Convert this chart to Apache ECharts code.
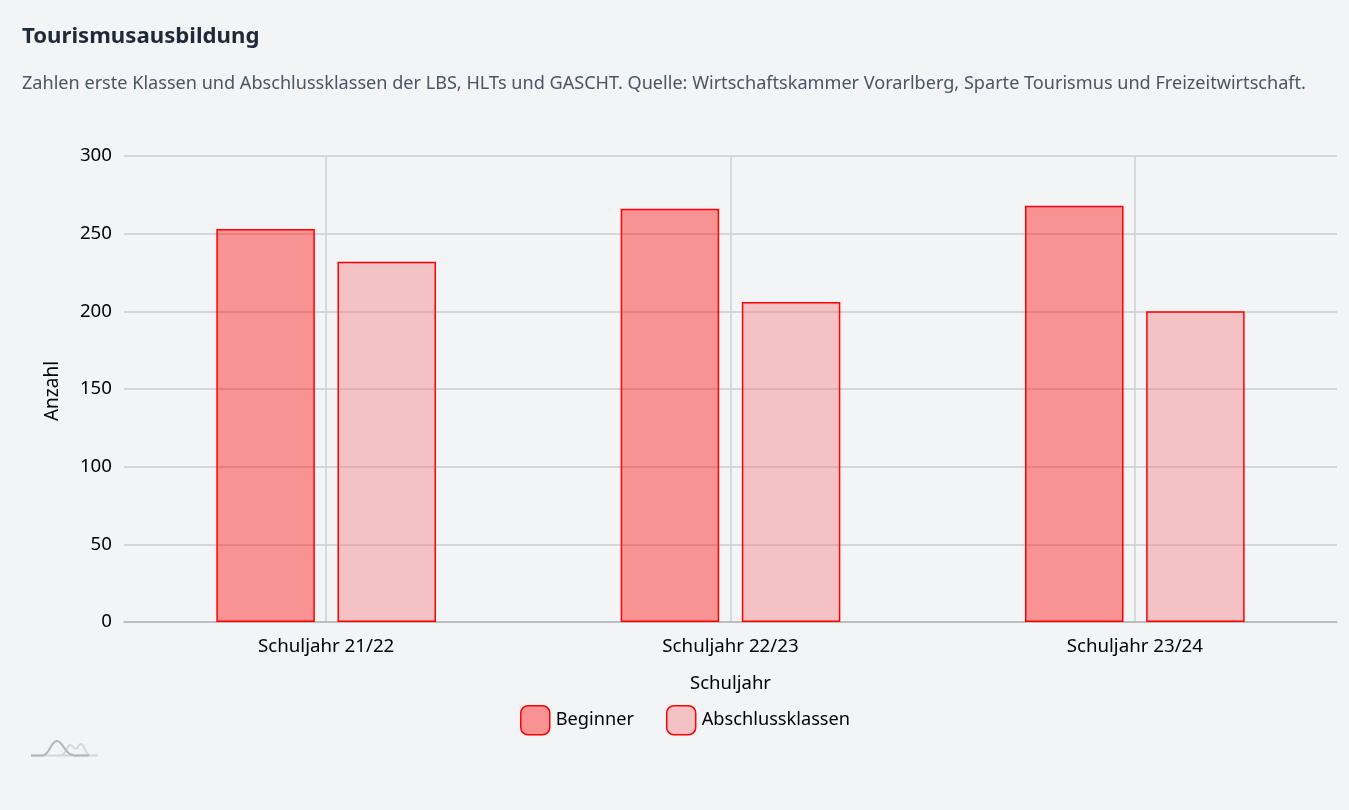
<!DOCTYPE html>
<html>
<head>
<meta charset="utf-8">
<style>
html,body{margin:0;padding:0;background:#f3f4f6;}
#chart{width:1349px;height:810px;}
</style>
<script src="https://cdn.jsdelivr.net/npm/echarts@6/dist/echarts.min.js"></script>
</head>
<body>
<div id="chart"></div>
<script>
var categories = ['Schuljahr 21/22', 'Schuljahr 22/23', 'Schuljahr 23/24'];
var beginner = [253, 266, 268];
var abschluss = [232, 206, 200];
var font = 'Noto Sans';

// kleines Logo links unten
function logoCurve(x1, y1, cx1, cy1, cx2, cy2, x2, y2, color) {
    return {type: 'bezierCurve', shape: {x1: x1, y1: y1, cpx1: cx1, cpy1: cy1, cpx2: cx2, cpy2: cy2, x2: x2, y2: y2},
        style: {fill: 'none', stroke: color, lineWidth: 2}};
}
var logoDark = '#b4b5b7', logoLight = '#d6d7d9';

var myChart = echarts.init(document.getElementById('chart'));
var option = {
    backgroundColor: '#f3f4f6',
    animation: false,
    textStyle: {fontFamily: font},
    title: [
        {text: 'Tourismusausbildung', left: 22, top: 26, padding: 0,
            textStyle: {fontFamily: font, fontSize: 22.2, fontWeight: 'bold', color: '#1f2937'}},
        {text: 'Zahlen erste Klassen und Abschlussklassen der LBS, HLTs und GASCHT. Quelle: Wirtschaftskammer Vorarlberg, Sparte Tourismus und Freizeitwirtschaft.', left: 22, top: 75, padding: 0,
            textStyle: {fontFamily: font, fontSize: 18.1, fontWeight: 'normal', color: '#4b5563'}}
    ],
    grid: {left: 124, right: 12, top: 156, bottom: 188},
    legend: {
        left: 520, top: 705, padding: 0,
        itemWidth: 29, itemHeight: 29, itemGap: 32,
        icon: 'roundRect',
        itemStyle: {borderWidth: 1.5},
        textStyle: {fontFamily: font, fontSize: 18.2, color: '#000', padding: [0, 0, 0, 1]},
        data: ['Beginner', 'Abschlussklassen']
    },
    xAxis: {
        type: 'category',
        data: categories,
        name: 'Schuljahr',
        nameLocation: 'middle',
        nameGap: 52,
        nameTextStyle: {fontSize: 18.5, color: '#000'},
        axisLine: {lineStyle: {color: '#b5b5b5', width: 1.5}},
        axisTick: {show: false},
        axisLabel: {fontSize: 18.7, color: '#000', margin: 15},
        splitLine: {show: true, alignWithLabel: true, lineStyle: {color: '#d0d1d3', width: 1.5}}
    },
    yAxis: {
        type: 'value',
        min: 0,
        max: 300,
        interval: 50,
        name: 'Anzahl',
        nameLocation: 'middle',
        nameGap: 62,
        nameTextStyle: {fontSize: 19, color: '#000', padding: [0, 4, 0, 0]},
        axisLabel: {fontSize: 18.7, color: '#000', margin: 12, padding: [2, 0, 0, 0]},
        axisLine: {show: false},
        axisTick: {show: false},
        splitLine: {lineStyle: {color: '#cbccce', width: 1.5}}
    },
    series: [
        {
            name: 'Beginner', type: 'bar', data: beginner,
            barWidth: 98.5, barGap: '23%',
            itemStyle: {color: 'rgba(255,0,0,0.4)', borderColor: '#ff0000', borderWidth: 1.5}
        },
        {
            name: 'Abschlussklassen', type: 'bar', data: abschluss,
            barWidth: 98.5,
            itemStyle: {color: 'rgba(245,120,125,0.4)', borderColor: '#ff0000', borderWidth: 1.5}
        }
    ],
    graphic: [
        {type: 'line', shape: {x1: 31, y1: 755.5, x2: 98, y2: 755.5}, style: {stroke: logoLight, lineWidth: 2}},
        logoCurve(62, 755, 67, 753, 67, 745, 70, 745, logoLight),
        logoCurve(70, 745, 73, 745, 74, 749, 76, 749, logoLight),
        logoCurve(76, 749, 78, 749, 78, 744, 81, 744, logoLight),
        logoCurve(81, 744, 84, 744, 85, 753, 89, 755, logoLight),
        {type: 'line', shape: {x1: 31, y1: 755.5, x2: 44, y2: 755.5}, style: {stroke: logoDark, lineWidth: 2}},
        logoCurve(44, 755, 50, 753, 51, 741, 57, 741, logoDark),
        logoCurve(57, 741, 63, 741, 65, 755, 73, 755, logoDark),
        {type: 'line', shape: {x1: 73, y1: 755.5, x2: 89, y2: 755.5}, style: {stroke: logoDark, lineWidth: 2}}
    ]
};
myChart.setOption(option);
</script>
</body>
</html>
